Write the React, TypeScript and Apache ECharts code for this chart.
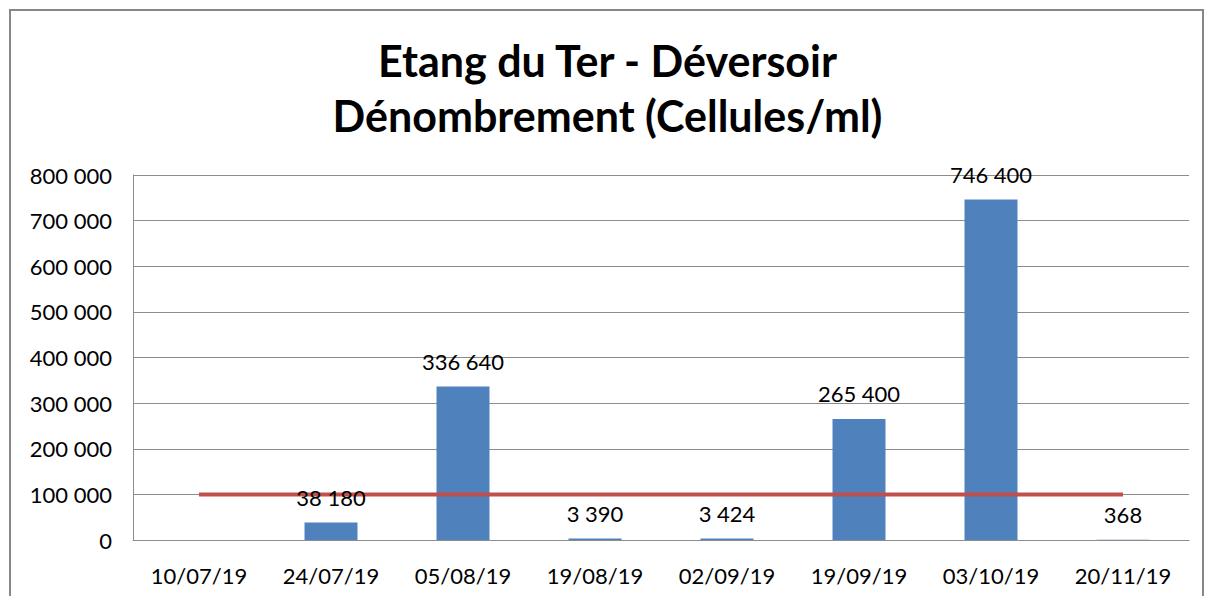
import React, { useEffect, useRef } from "react";
import * as echarts from "echarts";

const categories = ["10/07/19", "24/07/19", "05/08/19", "19/08/19", "02/09/19", "19/09/19", "03/10/19", "20/11/19"];
const counts: (number | null)[] = [null, 38180, 336640, 3390, 3424, 265400, 746400, 368];
const threshold = [100000, 100000, 100000, 100000, 100000, 100000, 100000, 100000];
const titleLines = ["Etang du Ter - Déversoir", "Dénombrement (Cellules/ml)"];

const fmt = (v: number) => String(Math.round(v)).replace(/\B(?=(\d{3})+(?!\d))/g, " ");

export default function App() {
  const ref = useRef<HTMLDivElement>(null);
  useEffect(() => {
    if (!ref.current) return;
    const chart = echarts.init(ref.current, undefined, { renderer: "svg" });
    const font = "Lato, 'Open Sans', sans-serif";
    chart.setOption({
      animation: false,
      backgroundColor: "#ffffff",
      textStyle: { fontFamily: font },
      title: {
        text: titleLines.join("\n"),
        left: "center",
        top: 28,
        textStyle: { fontFamily: font, fontSize: 43, fontWeight: "bold", color: "#000", lineHeight: 55 },
      },
      graphic: [
        {
          type: "rect",
          shape: { x: 10, y: 10, width: 1193, height: 620 },
          style: { fill: "none", stroke: "#878787", lineWidth: 2 },
          silent: true,
          z: -1,
        },
      ],
      grid: { left: 133, right: 26, top: 175, bottom: 56 },
      xAxis: {
        type: "category",
        data: categories,
        axisLine: { show: true, lineStyle: { color: "#8c8c8c", width: 1 } },
        axisTick: { show: false },
        axisLabel: { color: "#000", fontSize: 22, margin: 24, fontFamily: font },
      },
      yAxis: {
        type: "value",
        min: 0,
        max: 800000,
        interval: 100000,
        axisLine: { show: true, lineStyle: { color: "#8c8c8c", width: 1 } },
        axisTick: { show: false },
        splitLine: { lineStyle: { color: "#8c8c8c", width: 1 } },
        axisLabel: { color: "#000", fontSize: 22, margin: 21, fontFamily: font, formatter: (v: number) => fmt(v) },
      },
      series: [
        {
          type: "bar",
          data: counts,
          barWidth: 53,
          itemStyle: { color: "#4F81BD" },
          z: 1,
        },
        {
          type: "line",
          data: threshold,
          showSymbol: false,
          symbol: "none",
          lineStyle: { color: "#C0504D", width: 4 },
          z: 2,
        },
        {
          type: "bar",
          data: counts,
          barWidth: 53,
          barGap: "-100%",
          itemStyle: { color: "rgba(0,0,0,0)" },
          label: {
            show: true,
            position: "top",
            distance: 14,
            color: "#000",
            fontSize: 22,
            fontFamily: font,
            formatter: (p: any) => (p.value == null ? "" : fmt(p.value)),
          },
          z: 3,
        },
      ],
    });
    return () => chart.dispose();
  }, []);
  return <div ref={ref} style={{ position: "fixed", left: 0, top: 0, width: 1215, height: 596 }} />;
}
